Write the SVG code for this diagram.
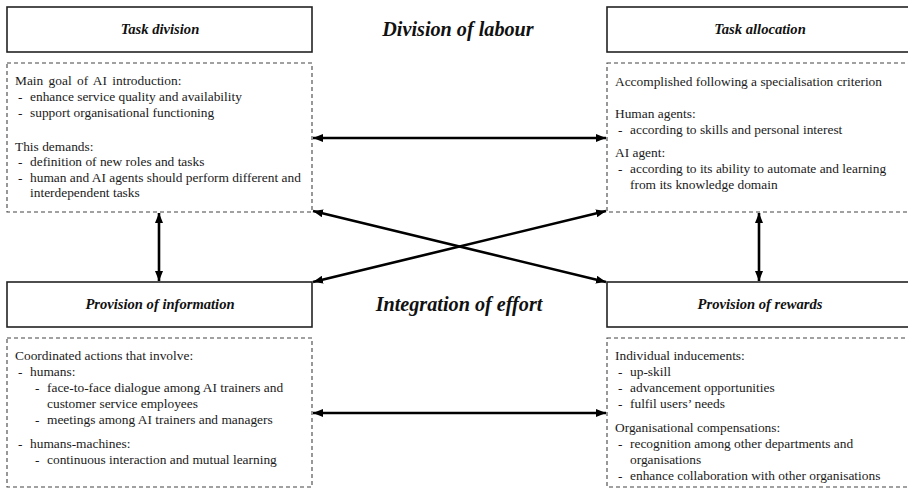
<svg xmlns="http://www.w3.org/2000/svg" width="908" height="488" viewBox="0 0 908 488">
<defs>
<marker id="ah" viewBox="0 0 10 8" refX="10" refY="4" markerWidth="10" markerHeight="8" markerUnits="userSpaceOnUse" orient="auto-start-reverse">
<path d="M0,0 L10,4 L0,8 Z" fill="#000"/>
</marker>
</defs>
<style>
.hd{fill:#fff;stroke:#222;stroke-width:1.6}
.db{fill:#fff;stroke:#444;stroke-width:1.1;stroke-dasharray:4,3}
.ht{font-family:"Liberation Serif",serif;font-size:14.6px;font-weight:bold;font-style:italic;text-anchor:middle;fill:#111}
.tt{font-family:"Liberation Serif",serif;font-size:20.2px;font-weight:bold;font-style:italic;text-anchor:middle;fill:#111}
.bt{font-family:"Liberation Serif",serif;font-size:13.4px;fill:#1a1a1a}
.cn{stroke:#000;stroke-width:2.6;fill:none;marker-start:url(#ah);marker-end:url(#ah)}
</style>
<rect width="908" height="488" fill="#fff"/>
<g id="title-division">
<text class="tt" x="458" y="36">Division of labour</text>
</g>
<g id="title-integration">
<text class="tt" x="459" y="311">Integration of effort</text>
</g>
<g id="task-division">
<rect class="hd" x="7" y="7" width="305" height="45"/>
<text class="ht" x="160" y="34">Task division</text>
</g>
<g id="task-division-body">
<rect class="db" x="7" y="63" width="305" height="149"/>
<text class="bt">
<tspan x="15" y="85" word-spacing="2">Main goal of AI introduction:</tspan>
<tspan x="18" y="101">-</tspan><tspan x="30" y="101">enhance service quality and availability</tspan>
<tspan x="18" y="117">-</tspan><tspan x="30" y="117">support organisational functioning</tspan>
<tspan x="15" y="151">This demands:</tspan>
<tspan x="18" y="166">-</tspan><tspan x="30" y="166">definition of new roles and tasks</tspan>
<tspan x="18" y="182">-</tspan><tspan x="30" y="182">human and AI agents should perform different and</tspan>
<tspan x="30" y="197">interdependent tasks</tspan>
</text>
</g>
<g id="task-allocation">
<rect class="hd" x="607" y="7" width="310" height="45"/>
<text class="ht" x="760" y="34">Task allocation</text>
</g>
<g id="task-allocation-body">
<rect class="db" x="607" y="63" width="310" height="149"/>
<text class="bt">
<tspan x="615" y="86">Accomplished following a specialisation criterion</tspan>
<tspan x="615" y="118">Human agents:</tspan>
<tspan x="618" y="134">-</tspan><tspan x="630" y="134">according to skills and personal interest</tspan>
<tspan x="615" y="157">AI agent:</tspan>
<tspan x="618" y="173">-</tspan><tspan x="630" y="173">according to its ability to automate and learning</tspan>
<tspan x="630" y="189">from its knowledge domain</tspan>
</text>
</g>
<g id="provision-information">
<rect class="hd" x="7" y="282" width="305" height="45"/>
<text class="ht" x="160" y="309">Provision of information</text>
</g>
<g id="provision-information-body">
<rect class="db" x="7" y="338" width="305" height="149"/>
<text class="bt">
<tspan x="15" y="360">Coordinated actions that involve:</tspan>
<tspan x="18" y="376">-</tspan><tspan x="30" y="376">humans:</tspan>
<tspan x="35" y="392">-</tspan><tspan x="47" y="392">face-to-face dialogue among AI trainers and</tspan>
<tspan x="47" y="408">customer service employees</tspan>
<tspan x="35" y="424">-</tspan><tspan x="47" y="424">meetings among AI trainers and managers</tspan>
<tspan x="18" y="448">-</tspan><tspan x="30" y="448">humans-machines:</tspan>
<tspan x="35" y="464">-</tspan><tspan x="47" y="464">continuous interaction and mutual learning</tspan>
</text>
</g>
<g id="provision-rewards">
<rect class="hd" x="607" y="282" width="310" height="45"/>
<text class="ht" x="760" y="309">Provision of rewards</text>
</g>
<g id="provision-rewards-body">
<rect class="db" x="607" y="338" width="310" height="149"/>
<text class="bt">
<tspan x="615" y="360">Individual inducements:</tspan>
<tspan x="618" y="376">-</tspan><tspan x="630" y="376">up-skill</tspan>
<tspan x="618" y="392">-</tspan><tspan x="630" y="392">advancement opportunities</tspan>
<tspan x="618" y="408">-</tspan><tspan x="630" y="408">fulfil users’ needs</tspan>
<tspan x="615" y="432">Organisational compensations:</tspan>
<tspan x="618" y="448">-</tspan><tspan x="630" y="448">recognition among other departments and</tspan>
<tspan x="630" y="464">organisations</tspan>
<tspan x="618" y="480">-</tspan><tspan x="630" y="480">enhance collaboration with other organisations</tspan>
</text>
</g>
<g id="connectors">
<line class="cn" x1="313" y1="138" x2="606" y2="138"/>
<line class="cn" x1="313" y1="211" x2="606" y2="282"/>
<line class="cn" x1="606" y1="211" x2="313" y2="282"/>
<line class="cn" x1="313" y1="413" x2="606" y2="413"/>
<line class="cn" x1="159" y1="213" x2="159" y2="281"/>
<line class="cn" x1="759" y1="213" x2="759" y2="281"/>
</g>
</svg>
